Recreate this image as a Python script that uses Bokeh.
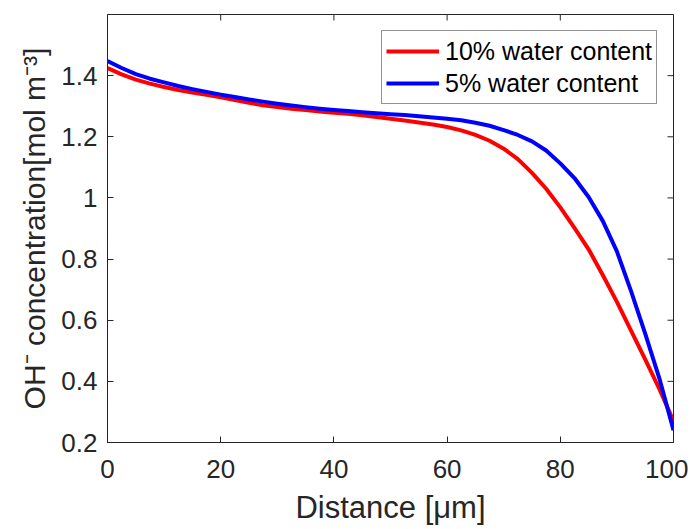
from bokeh.plotting import figure
from bokeh.models import FixedTicker, Range1d, Legend, LegendItem
from bokeh.embed import file_html
from bokeh.resources import INLINE

# ---- data ----
distance = [0, 2.5, 5, 7.5, 10, 12.5, 15, 17.5, 20, 22.5, 25, 27.5, 30, 32.5, 35, 37.5,
            40, 42.5, 45, 47.5, 50, 52.5, 55, 57.5, 60, 62.5, 65, 67.5, 70, 72.5, 75, 77.5,
            80, 82.5, 85, 87.5, 90, 92.5, 95, 97.5, 100]
conc_10pct = [1.425, 1.404, 1.387, 1.374, 1.363, 1.353, 1.345, 1.337, 1.329, 1.320, 1.311,
              1.303, 1.297, 1.292, 1.288, 1.283, 1.279, 1.275, 1.270, 1.265, 1.259, 1.253,
              1.247, 1.240, 1.232, 1.221, 1.206, 1.187, 1.161, 1.127, 1.082, 1.030, 0.969,
              0.902, 0.832, 0.748, 0.660, 0.566, 0.472, 0.375, 0.270]
conc_5pct = [1.448, 1.425, 1.405, 1.390, 1.378, 1.366, 1.356, 1.347, 1.338, 1.330, 1.322,
             1.315, 1.308, 1.302, 1.297, 1.292, 1.288, 1.284, 1.280, 1.277, 1.274, 1.271,
             1.267, 1.263, 1.259, 1.254, 1.246, 1.236, 1.222, 1.206, 1.185, 1.155, 1.113,
             1.065, 1.003, 0.925, 0.825, 0.695, 0.556, 0.410, 0.240]
series_labels = ["10% water content", "5% water content"]
x_ticks = [0, 20, 40, 60, 80, 100]
y_ticks = [0.2, 0.4, 0.6, 0.8, 1.0, 1.2, 1.4]
y_tick_labels = ["0.2", "0.4", "0.6", "0.8", "1", "1.2", "1.4"]

FONT = "Liberation Sans"
AX = "#262626"
FW, FH = 566, 428
X0, X1, Y0, Y1 = 0, 100, 0.2, 1.6
TICK = 6

p = figure(frame_width=FW, frame_height=FH,
           x_range=Range1d(X0, X1), y_range=Range1d(Y0, Y1),
           output_backend="svg", toolbar_location=None,
           min_border_left=107, min_border_right=15, min_border_top=14, min_border_bottom=80)
p.xgrid.visible = False
p.ygrid.visible = False
p.outline_line_color = AX
p.outline_line_width = 1
p.background_fill_color = "white"
p.border_fill_color = "white"

r1 = p.line(distance, conc_10pct, line_color="#FF0000", line_width=4, line_join="round")
r2 = p.line(distance, conc_5pct, line_color="#0000FF", line_width=4, line_join="round")

# mirrored tick marks on the top and right edges of the box
dx = TICK * (X1 - X0) / FW
dy = TICK * (Y1 - Y0) / FH
p.segment(x0=x_ticks, y0=[Y1] * len(x_ticks), x1=x_ticks, y1=[Y1 - dy] * len(x_ticks),
          line_color=AX, line_width=1)
p.segment(x0=[X1] * len(y_ticks), y0=y_ticks, x1=[X1 - dx] * len(y_ticks), y1=y_ticks,
          line_color=AX, line_width=1)

p.xaxis.ticker = FixedTicker(ticks=x_ticks)
p.yaxis.ticker = FixedTicker(ticks=y_ticks)
p.yaxis.major_label_overrides = {t: l for t, l in zip(y_ticks, y_tick_labels)}
p.xaxis.axis_label = "Distance [μm]"
p.yaxis.axis_label = "OH⁻ concentration[mol m⁻³]"

for ax in p.xaxis + p.yaxis:
    ax.axis_line_color = AX
    ax.axis_line_width = 1
    ax.major_tick_line_color = AX
    ax.major_tick_in = TICK
    ax.major_tick_out = 0
    ax.minor_tick_in = 0
    ax.minor_tick_out = 0
    ax.major_label_text_font = FONT
    ax.major_label_text_font_size = "26px"
    ax.major_label_text_color = AX
    ax.axis_label_text_font = FONT
    ax.axis_label_text_font_size = "31px"
    ax.axis_label_text_font_style = "normal"
    ax.axis_label_text_color = AX
p.yaxis.axis_label_text_font_size = "30px"
p.xaxis.major_label_standoff = 17
p.yaxis.major_label_standoff = 10
p.xaxis.axis_label_standoff = 9
p.yaxis.axis_label_standoff = 7

legend = Legend(items=[LegendItem(label=series_labels[0], renderers=[r1]),
                       LegendItem(label=series_labels[1], renderers=[r2])],
                location=(274, 338))
legend.label_text_font = FONT
legend.label_text_font_size = "25px"
legend.label_text_color = "black"
legend.glyph_width = 53
legend.glyph_height = 32
legend.label_height = 32
legend.label_standoff = 6
legend.padding = 4
legend.spacing = 0
legend.margin = 0
legend.border_line_color = AX
legend.border_line_width = 1
legend.background_fill_color = "white"
legend.background_fill_alpha = 1
p.add_layout(legend)

open("out.html", "w").write(file_html(p, INLINE))
